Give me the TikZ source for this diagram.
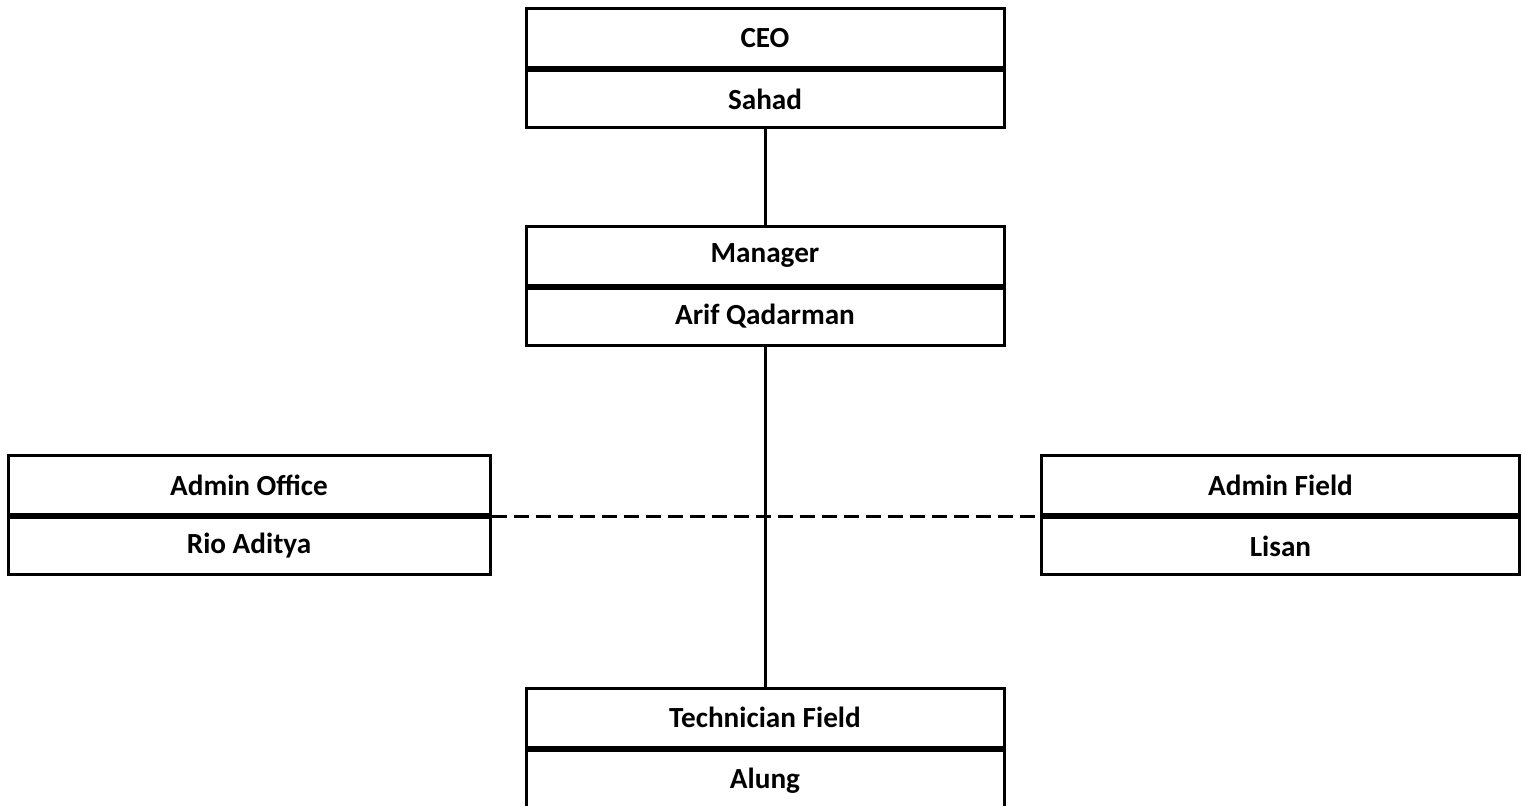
\documentclass[tikz,border=0pt]{standalone}
\usepackage{fontspec}
\setmainfont{Carlito}
\usepackage{tikz}
\usetikzlibrary{positioning}

\begin{document}
\begin{tikzpicture}[
    x=0.5pt, y=-0.5pt,
    node distance=0pt,
    role/.style={rectangle, draw, line width=1.5pt, minimum width=239pt, minimum height=29.5pt, inner sep=0pt, align=center, font=\fontsize{14.6}{17}\selectfont\bfseries},
    person/.style={role, minimum height=28.5pt},
    link/.style={line width=1.5pt},
    dotlink/.style={line width=1.5pt, dash pattern=on 7.5pt off 3.5pt},
]
\useasboundingbox (0,0) rectangle (1523,805);

% Top
\node[role] (ceo) at (765,38) {CEO};
\node[person, below=of ceo] (ceoname) {Sahad};

% Manager
\node[role] (manager) at (765,255.5) {Manager};
\node[person, below=of manager] (managername) {Arif Qadarman};

% Admin staff
\node[role, minimum width=241pt] (office) at (249,485) {Admin Office};
\node[person, minimum width=241pt, below=of office] (officename) {Rio Aditya};
\node[role] (field) at (1280.5,485) {Admin Field};
\node[person, below=of field] (fieldname) {Lisan};

% Technician
\node[role] (tech) at (765,717.5) {Technician Field};
\node[person, minimum height=31pt, below=of tech] (techname) {Alung};

% Lines
\draw[link] (ceoname) -- (manager);
\draw[link] (managername) -- (tech);
\draw[dotlink] (office.south east) -- (field.south west);

\end{tikzpicture}
\end{document}
